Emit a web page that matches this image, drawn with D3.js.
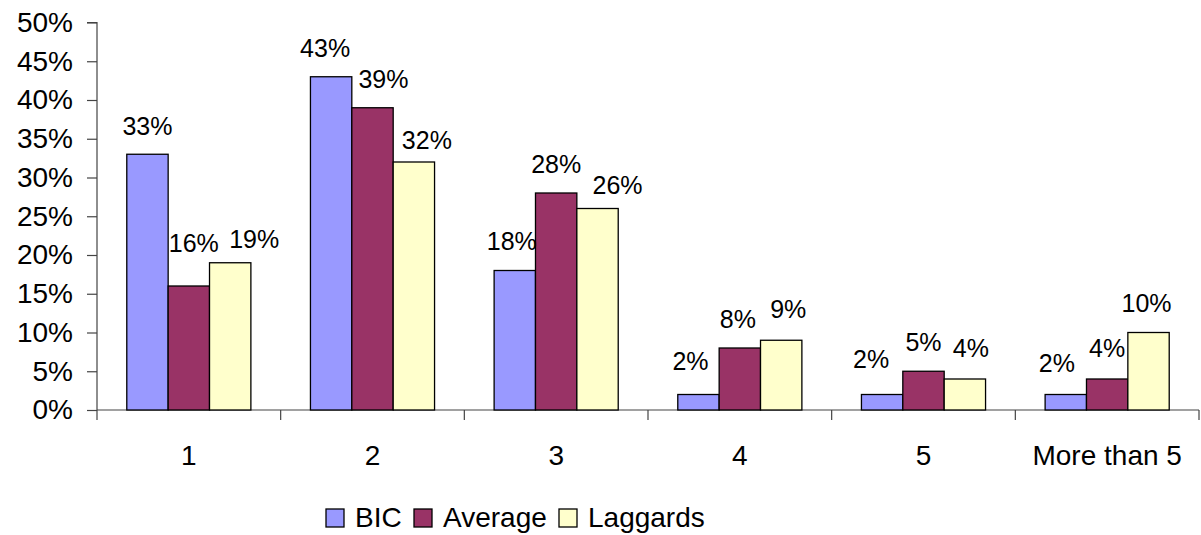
<!DOCTYPE html>
<html>
<head>
<meta charset="utf-8">
<script src="https://cdn.jsdelivr.net/npm/d3@7"></script>
<style>
  html, body { margin: 0; padding: 0; background: #fff; }
  svg { display: block; font-family: Arial, "Liberation Sans", sans-serif; }
</style>
</head>
<body>
<svg id="chart" width="1201" height="535"></svg>
<script>
// Category labels along the x axis
const categories = ["1", "2", "3", "4", "5", "More than 5"];
// Series names and colours
const seriesNames = ["BIC", "Average", "Laggards"];
const seriesColors = ["#9999FF", "#993366", "#FFFFCC"];
// Percent values per series, one per category
const bicValues      = [33, 43, 18, 2, 2, 2];
const averageValues  = [16, 39, 28, 8, 5, 4];
const laggardsValues = [19, 32, 26, 9, 4, 10];
// Y axis ticks
const yTicks = [0, 5, 10, 15, 20, 25, 30, 35, 40, 45, 50];

// Hand-placed label nudges (dx, dy in px) per series and category
const labelNudgeX = [
  [0, -6, -3, -8, -11, -9],
  [5, 11, 0, -2, 0, 0],
  [24, 13, 20, 7, 6, -2]
];
const labelNudgeY = [
  [1, 0, -1, -5, -7, -3],
  [-14, 0, 0, 0, 0, -2],
  [5, 7, 5, -2, -2, -1]
];

const seriesValues = [bicValues, averageValues, laggardsValues];

const svg = d3.select("#chart");
const plotLeft = 97, plotRight = 1199, plotTop = 22.5, plotBottom = 410;

const x0 = d3.scaleBand()
  .domain(categories)
  .range([plotLeft, plotRight])
  .paddingInner(0)
  .paddingOuter(0);

const x1 = d3.scaleBand()
  .domain(seriesNames)
  .range([0, x0.bandwidth()])
  .paddingInner(0)
  .paddingOuter(0.72);

const y = d3.scaleLinear()
  .domain([0, 50])
  .range([plotBottom, plotTop]);

// Y axis
const yAxis = svg.append("g")
  .attr("transform", `translate(${plotLeft},0)`)
  .call(d3.axisLeft(y).tickValues(yTicks).tickFormat(d => d + "%").tickSize(10).tickPadding(14));
yAxis.select(".domain").attr("stroke", "#444").attr("stroke-width", 1.2).attr("d", `M-10,${y(50)}H0V${plotBottom}`);
yAxis.selectAll(".tick line").attr("stroke", "#444").attr("stroke-width", 1.2);
yAxis.selectAll(".tick text").attr("font-size", 28).attr("fill", "#000")
  .attr("font-family", "Arial, 'Liberation Sans', sans-serif");

// X axis: ticks on band boundaries, labels centred in each band
const xg = svg.append("g").attr("transform", `translate(0,${plotBottom})`);
xg.append("line")
  .attr("x1", x0.range()[0]).attr("x2", x0.range()[1])
  .attr("y1", 0).attr("y2", 0)
  .attr("stroke", "#444").attr("stroke-width", 1.2);
const boundaries = categories.map(c => x0(c)).concat([x0.range()[1]]);
xg.selectAll("line.tick").data(boundaries).join("line")
  .attr("class", "tick")
  .attr("x1", d => d).attr("x2", d => d)
  .attr("y1", 0).attr("y2", 10)
  .attr("stroke", "#444").attr("stroke-width", 1.2);
xg.selectAll("text.cat").data(categories).join("text")
  .attr("class", "cat")
  .attr("x", d => x0(d) + x0.bandwidth() / 2)
  .attr("y", 55)
  .attr("text-anchor", "middle")
  .attr("font-size", 28)
  .attr("fill", "#000")
  .text(d => d);

// Bars with value labels
const cellData = (c, ci) => seriesNames.map((s, si) => ({ s, si, ci, v: seriesValues[si][ci] }));
const groups = svg.append("g").selectAll("g")
  .data(categories)
  .join("g")
  .attr("transform", d => `translate(${x0(d)},0)`);

groups.selectAll("rect")
  .data(cellData)
  .join("rect")
  .attr("x", d => x1(d.s))
  .attr("width", x1.bandwidth())
  .attr("y", d => y(d.v))
  .attr("height", d => plotBottom - y(d.v))
  .attr("fill", d => seriesColors[d.si])
  .attr("stroke", "#000")
  .attr("stroke-width", 1.3);

groups.selectAll("text")
  .data(cellData)
  .join("text")
  .attr("x", d => x1(d.s) + x1.bandwidth() / 2 + labelNudgeX[d.si][d.ci])
  .attr("y", d => y(d.v) - 20 + labelNudgeY[d.si][d.ci])
  .attr("text-anchor", "middle")
  .attr("font-size", 25)
  .attr("fill", "#000")
  .text(d => d.v + "%");

// Legend
const legendX = [326, 414, 559];
const legend = svg.append("g");
seriesNames.forEach((name, i) => {
  legend.append("rect")
    .attr("x", legendX[i]).attr("y", 509)
    .attr("width", 18).attr("height", 18)
    .attr("fill", seriesColors[i])
    .attr("stroke", "#000").attr("stroke-width", 1.3);
  legend.append("text")
    .attr("x", legendX[i] + 29).attr("y", 527)
    .attr("font-size", 28)
    .attr("fill", "#000")
    .text(name);
});
</script>
</body>
</html>
